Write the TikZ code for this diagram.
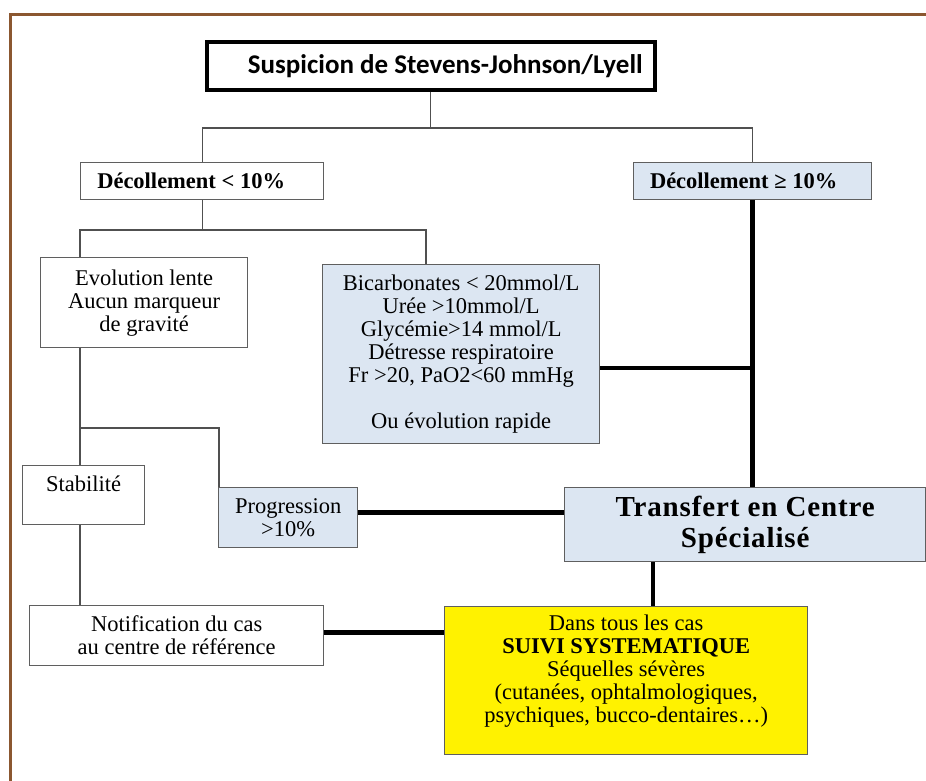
\documentclass[tikz,border=0pt]{standalone}
\usepackage{fontspec}
\setmainfont{Liberation Serif}
\newfontfamily\titlefont{Carlito}
\definecolor{framebrown}{RGB}{139,87,48}
\definecolor{paleblue}{RGB}{220,230,242}
\definecolor{boxline}{RGB}{95,95,95}
\definecolor{wireline}{RGB}{80,80,80}
\newcommand\bodyfs{\fontsize{22.5}{23}\selectfont}
\tikzset{
  box/.style={draw=boxline, line width=1.3pt, inner sep=0pt, anchor=north west, align=center, font=\bodyfs},
  bluebox/.style={box, fill=paleblue},
  wire/.style={draw=wireline, line width=1.3pt},
  heavy/.style={draw=black, line width=4.5pt},
}
\begin{document}
\begin{tikzpicture}[x=1pt,y=-1pt]
\useasboundingbox (0,0) rectangle (926,780);
\fill[white] (0,0) rectangle (926,780);
\draw[framebrown, line width=3pt] (10,782) -- (10,14) -- (928,14);

% boxes
\node[box, draw=black, line width=3.5pt, minimum width=448pt, minimum height=48pt,
      font=\titlefont\bfseries\fontsize{27}{30}\selectfont] (title) at (205,40)
      {\hspace*{29pt}Suspicion de Stevens-Johnson/Lyell};
\node[box, minimum width=243pt, minimum height=37pt, font=\bodyfs\bfseries] (decl) at (80,162)
      {Décollement < 10\%\hspace*{22pt}};
\node[bluebox, minimum width=238pt, minimum height=37pt, font=\bodyfs\bfseries] (decg) at (633,162)
      {Décollement ≥ 10\%\hspace*{18pt}};
\node[box, minimum width=207pt, minimum height=90pt] (evol) at (40,257)
      {Evolution lente\\Aucun marqueur\\de gravité};
\node[bluebox, minimum width=277pt, minimum height=179pt] (bic) at (322,264)
      {Bicarbonates < 20mmol/L\\Urée >10mmol/L\\Glycémie>14 mmol/L\\Détresse respiratoire\\Fr >20, PaO2<60 mmHg\\[23pt]Ou évolution rapide};
\node[box, minimum width=122pt, minimum height=59pt] (stab) at (22,465)
      {Stabilité\\\mbox{}};
\node[bluebox, minimum width=139pt, minimum height=60pt] (prog) at (218,487)
      {Progression\\>10\%};
\node[bluebox, minimum width=361pt, minimum height=74pt,
      font=\fontsize{29}{31}\selectfont\bfseries\addfontfeature{LetterSpace=3}] (trans) at (564,487)
      {Transfert en Centre\\Spécialisé};
\node[box, minimum width=294pt, minimum height=60pt] (notif) at (29,605)
      {Notification du cas\\au centre de référence};
\node[box, fill=yellow, minimum width=363pt, minimum height=148pt] (suivi) at (444,606)
      {Dans tous les cas\\\textbf{SUIVI SYSTEMATIQUE}\\Séquelles sévères\\(cutanées, ophtalmologiques,\\psychiques, bucco-dentaires…)\\\mbox{}};

% thin connectors
\coordinate (busA) at (0,128);
\coordinate (busB) at (0,230);
\coordinate (branch) at (0,428);
\draw[wire] (title.south) -- (title.south |- busA);
\draw[wire] (decl.north) |- (busA -| decg.north) -- (decg.north);
\draw[wire] (decl.south) -- (decl.south |- busB);
\coordinate (evolin) at ([xshift=40pt]evol.north west);
\coordinate (evolout) at ([xshift=40pt]evol.south west);
\coordinate (bicin) at ([xshift=104pt]bic.north west);
\coordinate (stabin) at ([xshift=58pt]stab.north west);
\coordinate (stabout) at ([xshift=58pt]stab.south west);
\coordinate (notifin) at ([xshift=51pt]notif.north west);
\coordinate (progin) at ([xshift=1pt]prog.north west);
\draw[wire] (evolin) |- (bicin |- busB) -- (bicin);
\draw[wire] (evolout) -- (stabin);
\draw[wire] (stabout) -- (notifin);
\draw[wire] (evolout |- branch) -| (progin);

% heavy connectors
\coordinate (bicout) at ([yshift=-104pt]bic.north east);
\coordinate (progout) at ([yshift=5pt]prog.east);
\coordinate (tdown) at ([xshift=89pt]trans.south west);
\coordinate (notifout) at ([yshift=3pt]notif.east);
\draw[heavy] (decg.south) -- (decg.south |- trans.north);
\draw[heavy] (bicout) -- (bicout -| decg.south);
\draw[heavy] (progout) -- (progout -| trans.west);
\draw[heavy] (tdown) -- (tdown |- suivi.north);
\draw[heavy] (notifout) -- (notifout -| suivi.west);
\end{tikzpicture}
\end{document}
